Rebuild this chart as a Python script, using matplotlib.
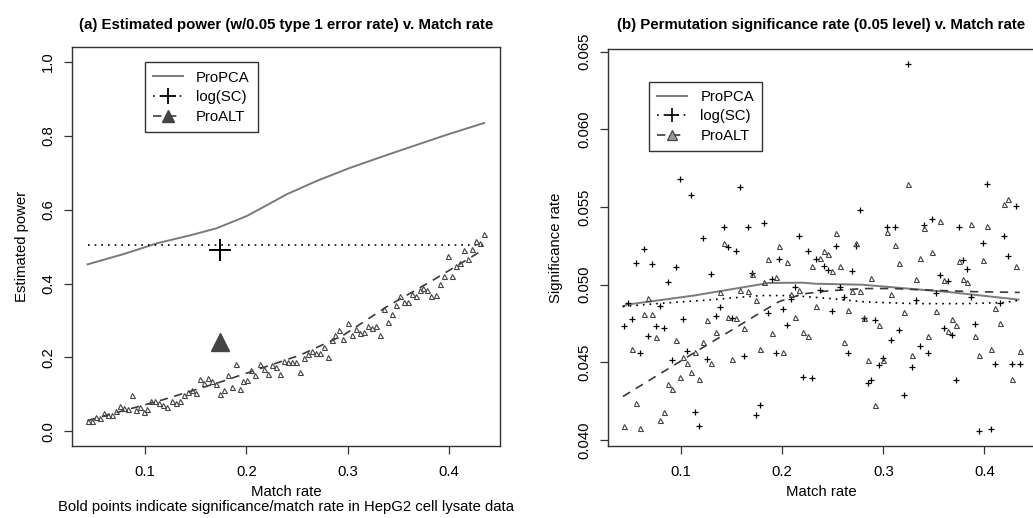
import numpy as np
import matplotlib.pyplot as plt
from matplotlib.lines import Line2D

plt.rcParams['font.family'] = ['Liberation Sans', 'DejaVu Sans']
plt.rcParams['font.size'] = 10.7

# shared match rates (100 simulated data sets)
match_rate = [0.043, 0.047, 0.051, 0.055, 0.059, 0.063, 0.067, 0.071, 0.075, 0.079,
              0.083, 0.087, 0.091, 0.095, 0.099, 0.102, 0.106, 0.110, 0.114, 0.118,
              0.122, 0.126, 0.130, 0.134, 0.138, 0.142, 0.146, 0.150, 0.154, 0.158,
              0.162, 0.166, 0.170, 0.174, 0.178, 0.182, 0.186, 0.190, 0.194, 0.197,
              0.201, 0.205, 0.209, 0.213, 0.217, 0.221, 0.225, 0.229, 0.233, 0.237,
              0.241, 0.245, 0.249, 0.253, 0.257, 0.261, 0.265, 0.269, 0.273, 0.277,
              0.281, 0.285, 0.288, 0.292, 0.296, 0.300, 0.304, 0.308, 0.312, 0.316,
              0.320, 0.324, 0.328, 0.332, 0.336, 0.340, 0.344, 0.348, 0.352, 0.356,
              0.360, 0.364, 0.368, 0.372, 0.375, 0.379, 0.383, 0.387, 0.391, 0.395,
              0.399, 0.403, 0.407, 0.411, 0.415, 0.419, 0.423, 0.427, 0.431, 0.435]

# (a) estimated power of ProALT per data set
power_proalt = [0.029, 0.027, 0.038, 0.036, 0.049, 0.043, 0.043, 0.056, 0.067, 0.0625,
                0.061, 0.097, 0.058, 0.065, 0.052, 0.061, 0.081, 0.082, 0.076, 0.072,
                0.065, 0.083, 0.076, 0.082, 0.097, 0.106, 0.112, 0.103, 0.142, 0.130,
                0.144, 0.136, 0.127, 0.101, 0.112, 0.151, 0.120, 0.181, 0.115, 0.136,
                0.139, 0.165, 0.151, 0.181, 0.169, 0.156, 0.180, 0.174, 0.156, 0.190,
                0.188, 0.188, 0.188, 0.160, 0.199, 0.210, 0.217, 0.212, 0.212, 0.228,
                0.201, 0.246, 0.260, 0.275, 0.251, 0.292, 0.260, 0.278, 0.266, 0.269,
                0.284, 0.280, 0.284, 0.260, 0.330, 0.296, 0.317, 0.341, 0.367, 0.351,
                0.351, 0.371, 0.367, 0.382, 0.387, 0.382, 0.366, 0.370, 0.399, 0.420,
                0.476, 0.421, 0.447, 0.457, 0.491, 0.466, 0.493, 0.514, 0.511, 0.534]

# (a) smoothed curves
pca_a_x = [0.043, 0.08, 0.1115, 0.145, 0.1708, 0.2004, 0.220, 0.240, 0.2695, 0.302, 0.345, 0.398, 0.435]
pca_a_y = [0.452, 0.481, 0.509, 0.531, 0.550, 0.583, 0.612, 0.642, 0.678, 0.713, 0.754, 0.803, 0.835]
logsc_a_x = [0.043, 0.435]
logsc_a_y = [0.5046, 0.5046]
alt_a_x = [0.043, 0.1148, 0.174, 0.253, 0.2958, 0.3386, 0.3846, 0.4315]
alt_a_y = [0.029, 0.083, 0.133, 0.206, 0.260, 0.337, 0.4095, 0.487]

# (a) HepG2 cell lysate data
hepg2_rate = 0.174
hepg2_logsc = 0.491
hepg2_proalt = 0.242

# (b) permutation significance rate per data set
sig_logsc = [0.04735, 0.04882, 0.0478, 0.05139, 0.04558, 0.05231, 0.04669, 0.05135, 0.04733, 0.04861,
             0.04722, 0.05017, 0.04513, 0.05111, 0.05679, 0.04776, 0.04573, 0.05579, 0.04177, 0.04088,
             0.05303, 0.04524, 0.05066, 0.04799, 0.04855, 0.0537, 0.05244, 0.04786, 0.05214, 0.0563,
             0.04541, 0.0537, 0.05077, 0.04162, 0.04222, 0.054, 0.04816, 0.05036, 0.04562, 0.05165,
             0.04844, 0.04739, 0.0491, 0.04985, 0.05314, 0.04408, 0.05216, 0.044, 0.05167, 0.04964,
             0.05118, 0.05096, 0.04831, 0.0525, 0.04985, 0.04921, 0.04562, 0.05085, 0.05246, 0.05481,
             0.04786, 0.04365, 0.04387, 0.04771, 0.04483, 0.04526, 0.0537, 0.04643, 0.0537, 0.04707,
             0.04291, 0.06423, 0.04472, 0.049, 0.04605, 0.05387, 0.04558, 0.05423, 0.04947, 0.0506,
             0.04722, 0.05024, 0.04675, 0.04387, 0.0537, 0.0516, 0.05098, 0.04921, 0.04744, 0.04056,
             0.05271, 0.05647, 0.04073, 0.04491, 0.04885, 0.05314, 0.05182, 0.04491, 0.05506, 0.04487]

sig_proalt = [0.04088, np.nan, 0.04588, 0.04241, 0.04077, 0.04812, 0.04915, 0.04808, 0.04662, 0.04126,
              0.04177, 0.04359, 0.04327, 0.04643, 0.04408, 0.04536, 0.04494, 0.04436, 0.04564, 0.04393,
              0.04628, 0.04771, 0.04498, 0.04694, 0.04951, 0.05271, 0.04793, 0.04519, 0.04786, 0.04968,
              0.0472, 0.04957, 0.05071, 0.04904, 0.04583, 0.05015, 0.05167, 0.04686, 0.05049, 0.05252,
              0.04568, 0.05147, 0.04942, 0.04793, 0.04964, 0.04697, 0.04669, 0.05122, 0.04861, 0.05171,
              0.0522, 0.05199, 0.05088, 0.05335, 0.05122, 0.04628, 0.0484, 0.04962, 0.05271, 0.04962,
              0.04786, 0.04515, 0.05045, 0.04226, 0.04739, 0.04515, 0.05338, 0.04942, 0.05256, 0.05141,
              0.04825, 0.0565, 0.04545, 0.05034, 0.05169, 0.05363, 0.04671, 0.05209, 0.04829, 0.05408,
              0.05032, 0.04701, 0.04776, 0.04739, 0.05152, 0.05038, 0.05019, 0.05391, 0.04671, 0.04547,
              0.05158, 0.05376, 0.04585, 0.04853, 0.04754, 0.05517, 0.05549, 0.04391, 0.05118, 0.04571]

# (b) smoothed curves
pca_b_x = [0.0424, 0.0466, 0.1125, 0.1866, 0.22, 0.2327, 0.2789, 0.3151, 0.3645, 0.4337]
pca_b_y = [0.0486, 0.04872, 0.0493, 0.05011, 0.05013, 0.05006, 0.0500, 0.0498, 0.04953, 0.04904]
logsc_b_x = [0.0424, 0.08, 0.124, 0.1784, 0.21, 0.2486, 0.28, 0.33, 0.38, 0.42, 0.4347]
logsc_b_y = [0.0486, 0.0488, 0.0490, 0.0493, 0.0493, 0.0491, 0.0489, 0.04878, 0.04878, 0.04885, 0.0490]
alt_b_x = [0.0424, 0.08, 0.1125, 0.1455, 0.1784, 0.1965, 0.22, 0.245, 0.28, 0.31, 0.345, 0.39, 0.435]
alt_b_y = [0.0428, 0.0443, 0.0456, 0.0469, 0.0482, 0.0489, 0.0494, 0.0496, 0.04975, 0.04975,
           0.04965, 0.04955, 0.0495]

gray = '#7a7a7a'
dark = '#3a3a3a'
dot = (0, (1, 3))
dash = (0, (5, 4))

fig = plt.figure(figsize=(10.33, 5.18), dpi=100)
ax1 = fig.add_axes([0.0694, 0.139, 0.4146, 0.7697])
ax2 = fig.add_axes([0.5883, 0.139, 0.4142, 0.7664])

# ---- panel (a)
ax1.plot(pca_a_x, pca_a_y, color=gray, lw=1.4)
ax1.plot(logsc_a_x, logsc_a_y, color='k', lw=1.2, linestyle=dot)
ax1.plot(alt_a_x, alt_a_y, color=dark, lw=1.2, linestyle=dash)
ax1.plot(match_rate, power_proalt, linestyle='none', marker='^', ms=3.6,
         mfc='none', mec='#444444', mew=0.8)
ax1.plot(hepg2_rate, hepg2_logsc, marker='+', ms=16, mew=1.4, color='k', linestyle='none')
ax1.plot(hepg2_rate, hepg2_proalt, marker='^', ms=13, color='#444444', linestyle='none')
ax1.set_xlim(0.0273, 0.4507)
ax1.set_ylim(-0.04, 1.04)
ax1.set_xticks([0.1, 0.2, 0.3, 0.4])
ax1.set_yticks([0.0, 0.2, 0.4, 0.6, 0.8, 1.0])
ax1.set_yticklabels(['0.0', '0.2', '0.4', '0.6', '0.8', '1.0'], rotation=90, va='center')

leg_a = [Line2D([], [], color=gray, lw=1.4),
         Line2D([], [], color='k', lw=1.2, linestyle=dot, marker='+', ms=12, mew=1.3),
         Line2D([], [], color=dark, lw=1.2, linestyle=dash, marker='^', ms=8,
                mfc='#444444', mec='#444444')]
ax1.legend(leg_a, ['ProPCA', 'log(SC)', 'ProALT'], loc='upper left',
           bbox_to_anchor=(0.171, 0.962), borderaxespad=0, fancybox=False,
           edgecolor='#333333', framealpha=1, handlelength=2.0, handletextpad=0.9,
           labelspacing=0.38, borderpad=0.55)

fig.text(0.2768, 1 - 29 / 518, '(a) Estimated power (w/0.05 type 1 error rate) v. Match rate',
         ha='center', va='baseline', fontsize=10.8, fontweight='bold')
fig.text(22 / 1033, 0.5 * (0.139 + 0.9087), 'Estimated power', rotation=90,
         ha='center', va='center')
fig.text(0.2768, 1 - 496 / 518, 'Match rate', ha='center', va='baseline')
fig.text(0.2768, 1 - 511 / 518,
         'Bold points indicate significance/match rate in HepG2 cell lysate data',
         ha='center', va='baseline')

# ---- panel (b)
ax2.plot(pca_b_x, pca_b_y, color=gray, lw=1.4)
ax2.plot(logsc_b_x, logsc_b_y, color='k', lw=1.2, linestyle=dot)
ax2.plot(alt_b_x, alt_b_y, color=dark, lw=1.2, linestyle=dash)
ax2.plot(match_rate, sig_logsc, linestyle='none', marker='+', ms=4.8, mew=0.9, color='k')
ax2.plot(match_rate, sig_proalt, linestyle='none', marker='^', ms=3.6,
         mfc='none', mec='#444444', mew=0.8)
ax2.set_xlim(0.0273, 0.4507)
ax2.set_ylim(0.03961, 0.06518)
ax2.set_xticks([0.1, 0.2, 0.3, 0.4])
yt = [0.040, 0.045, 0.050, 0.055, 0.060, 0.065]
ax2.set_yticks(yt)
ax2.set_yticklabels(['%.3f' % v for v in yt], rotation=90, va='center')

leg_b = [Line2D([], [], color=gray, lw=1.4),
         Line2D([], [], color='k', lw=1.2, linestyle=dot, marker='+', ms=10, mew=1.2),
         Line2D([], [], color=dark, lw=1.2, linestyle=dash, marker='^', ms=7,
                mfc='#999999', mec='#444444', mew=0.9)]
ax2.legend(leg_b, ['ProPCA', 'log(SC)', 'ProALT'], loc='upper left',
           bbox_to_anchor=(0.097, 0.918), borderaxespad=0, fancybox=False,
           edgecolor='#333333', framealpha=1, handlelength=2.0, handletextpad=0.9,
           labelspacing=0.38, borderpad=0.55)

fig.text(821 / 1033, 1 - 29 / 518, '(b) Permutation significance rate (0.05 level) v. Match rate',
         ha='center', va='baseline', fontsize=10.8, fontweight='bold')
fig.text(556 / 1033, 0.5 * (0.139 + 0.9054), 'Significance rate', rotation=90,
         ha='center', va='center')
fig.text(821 / 1033, 1 - 496 / 518, 'Match rate', ha='center', va='baseline')

for ax in (ax1, ax2):
    for s in ax.spines.values():
        s.set_color('#333333')
        s.set_linewidth(1.0)
    ax.tick_params(direction='out', length=6, width=0.9, color='#333333', labelsize=10.7)
    ax.tick_params(axis='x', pad=8)
    ax.tick_params(axis='y', pad=6)

fig.savefig('out.png', dpi=100)
